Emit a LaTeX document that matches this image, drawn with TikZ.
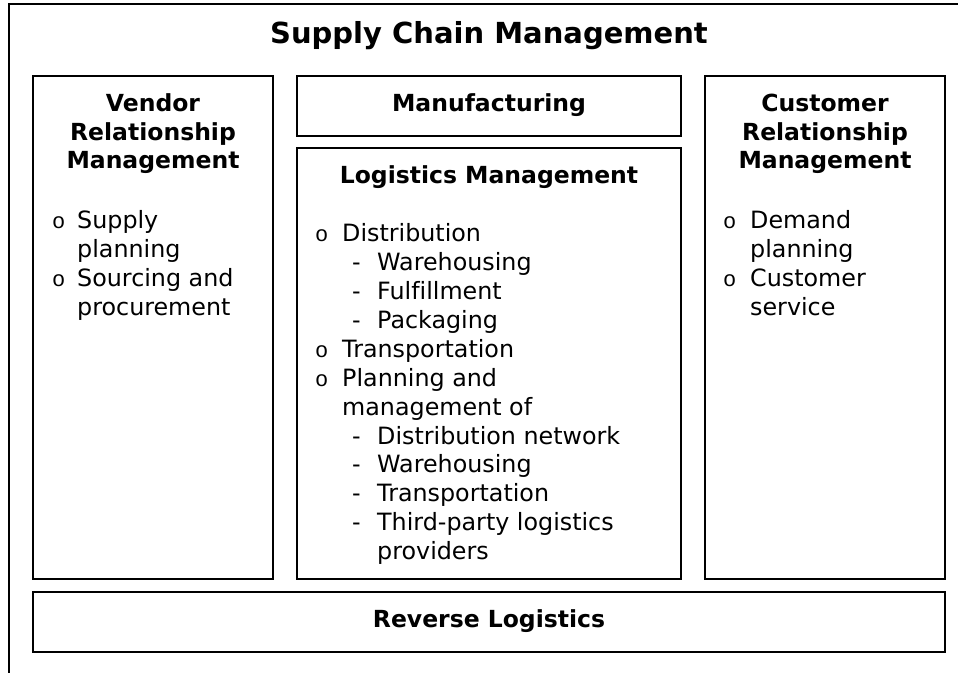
\documentclass[tikz,border=0pt]{standalone}
\usepackage{fontspec}
\setmainfont{DejaVu Sans}[Ligatures=NoCommon]
\newfontfamily\bulletfont{Liberation Mono}
\newcommand{\bodyfont}{\fontsize{23.8}{29}\selectfont}
\newcommand{\headfont}{\fontsize{23.5}{29}\selectfont\bfseries}
\newcommand{\titlefont}{\fontsize{29}{34}\selectfont\bfseries}
\begin{document}
\begin{tikzpicture}[x=1pt,y=-1pt,
  box/.style={draw=black,line width=2pt,fill=white,inner sep=0pt},
  head/.style={anchor=base,inner sep=0pt,font=\headfont},
  line/.style={anchor=base west,inner sep=0pt,font=\bodyfont},
  bul/.style={anchor=base west,inner sep=0pt,font=\bulletfont\fontsize{22}{29}\selectfont},
  subdash/.style={anchor=base west,inner sep=0pt,font=\bodyfont}]
\clip (0,0) rectangle (958,672);
% outer frame, running off the right and bottom edges
\draw[line width=2pt] (9,690) -- (9,4) -- (975,4);

% title
\node[anchor=base,inner sep=0pt,font=\titlefont] (title) at (489,43) {Supply Chain Management};

% boxes
\node[box,minimum width=240pt,minimum height=503pt] (vrm) at (153,327.5) {};
\node[box,minimum width=384pt,minimum height=60pt] (mfg) at (489,106) {};
\node[box,minimum width=384pt,minimum height=431pt] (lgm) at (489,363.5) {};
\node[box,minimum width=240pt,minimum height=503pt] (crm) at (825,327.5) {};
\node[box,minimum width=912pt,minimum height=60pt] (rev) at (489,622) {};

% Vendor Relationship Management
\node[head] (vh1) at (153,111) {Vendor};
\node[head] (vh2) at (153,140) {Relationship};
\node[head] (vh3) at (153,168) {Management};
\node[bul] (vb1) at (52,228) {o};
\node[line] (vl1) at (77,228) {Supply};
\node[line] (vl2) at (77,257) {planning};
\node[bul] (vb2) at (52,286) {o};
\node[line] (vl3) at (77,286) {Sourcing and};
\node[line] (vl4) at (77,315) {procurement};

% Manufacturing
\node[head] (mh) at (489,111) {Manufacturing};

% Logistics Management
\node[head] (lh) at (489,183) {Logistics Management};
\node[bul] (lb1) at (315,241.7) {o};
\node[line] (ll1) at (342,241.7) {Distribution};
\node[subdash] (ld1) at (352,270.6) {-};
\node[line] (ll2) at (377,270.6) {Warehousing};
\node[subdash] (ld2) at (352,299.5) {-};
\node[line] (ll3) at (377,299.5) {Fulfillment};
\node[subdash] (ld3) at (352,328.4) {-};
\node[line] (ll4) at (377,328.4) {Packaging};
\node[bul] (lb2) at (315,357.3) {o};
\node[line] (ll5) at (342,357.3) {Transportation};
\node[bul] (lb3) at (315,386.2) {o};
\node[line] (ll6) at (342,386.2) {Planning and};
\node[line] (ll7) at (342,415.1) {management of};
\node[subdash] (ld4) at (352,444) {-};
\node[line] (ll8) at (377,444) {Distribution network};
\node[subdash] (ld5) at (352,472.9) {-};
\node[line] (ll9) at (377,472.9) {Warehousing};
\node[subdash] (ld6) at (352,501.8) {-};
\node[line] (ll10) at (377,501.8) {Transportation};
\node[subdash] (ld7) at (352,530.7) {-};
\node[line] (ll11) at (377,530.7) {Third-party logistics};
\node[line] (ll12) at (377,559.6) {providers};

% Customer Relationship Management
\node[head] (ch1) at (825,111) {Customer};
\node[head] (ch2) at (825,140) {Relationship};
\node[head] (ch3) at (825,168) {Management};
\node[bul] (cb1) at (723,228) {o};
\node[line] (cl1) at (750,228) {Demand};
\node[line] (cl2) at (750,257) {planning};
\node[bul] (cb2) at (723,286) {o};
\node[line] (cl3) at (750,286) {Customer};
\node[line] (cl4) at (750,315) {service};

% Reverse Logistics
\node[head] (rh) at (489,627) {Reverse Logistics};
\end{tikzpicture}
\end{document}
